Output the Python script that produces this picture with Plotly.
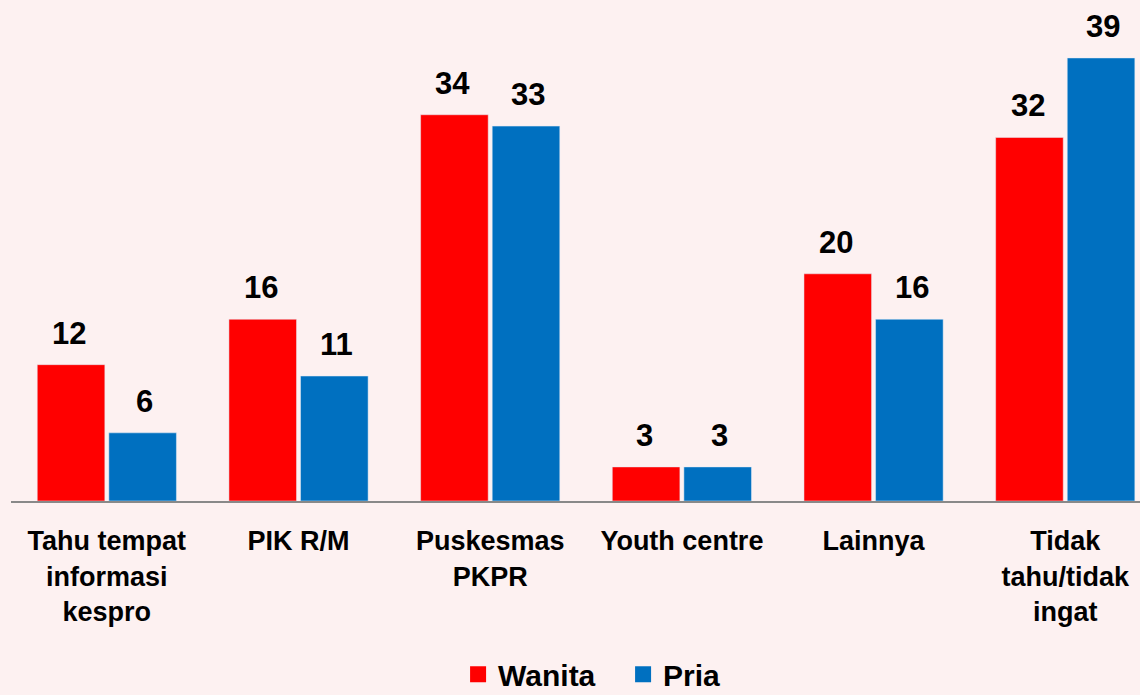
import plotly.graph_objects as go

categories = ["Tahu tempat<br>informasi<br>kespro", "PIK R/M", "Puskesmas<br>PKPR",
              "Youth centre", "Lainnya", "Tidak<br>tahu/tidak<br>ingat"]
wanita = [12, 16, 34, 3, 20, 32]
pria = [6, 11, 33, 3, 16, 39]

RED = "#FF0000"
BLUE = "#0070C0"
BG = "#FDF1F1"
FONT = "Liberation Sans, Arial, sans-serif"

fig = go.Figure()
fig.add_trace(go.Bar(x=categories, y=wanita, name="Wanita", marker_color=RED, showlegend=False))
fig.add_trace(go.Bar(x=categories, y=pria, name="Pria", marker_color=BLUE, showlegend=False))
# legend entries
for nm, col in [("Wanita", RED), ("Pria", BLUE)]:
    fig.add_trace(go.Scatter(x=[None], y=[None], mode="markers", name=nm,
                             marker=dict(symbol="square", size=19, color=col)))

annotations = []
for vals, shift in [(wanita, -37.5), (pria, 38)]:
    for c, v in zip(categories, vals):
        annotations.append(dict(x=c, y=v, xref="x", yref="y", text=f"<b>{v}</b>",
                                showarrow=False, xshift=shift, yshift=12, yanchor="bottom",
                                font=dict(family=FONT, size=31, color="#000000")))

fig.update_layout(
    width=1140, height=695,
    margin=dict(l=11, r=0, t=0, b=194, autoexpand=False),
    paper_bgcolor=BG, plot_bgcolor=BG,
    barmode="group", bargap=0.253, bargroupgap=0.056,
    annotations=annotations,
    legend=dict(orientation="h", x=0.396, xanchor="left", y=-0.346, yanchor="middle",
                font=dict(family=FONT, size=30, color="#000000", weight="bold"), itemwidth=30,
                entrywidth=120, bgcolor="rgba(0,0,0,0)", borderwidth=0),
    font=dict(family=FONT),
)
fig.update_xaxes(range=[-0.5, 5.39], showline=True, linecolor="#898989", linewidth=2,
                 ticks="", ticklabelstandoff=15,
                 tickfont=dict(family=FONT, size=27, color="#000000", weight="bold"),
                 showgrid=False)
fig.update_yaxes(range=[0, 44.1], visible=False, showgrid=False, zeroline=False)

fig.write_html("out.html", config={"displayModeBar": False},
               post_script=f"document.body.style.margin='0';document.body.style.background='{BG}';")
